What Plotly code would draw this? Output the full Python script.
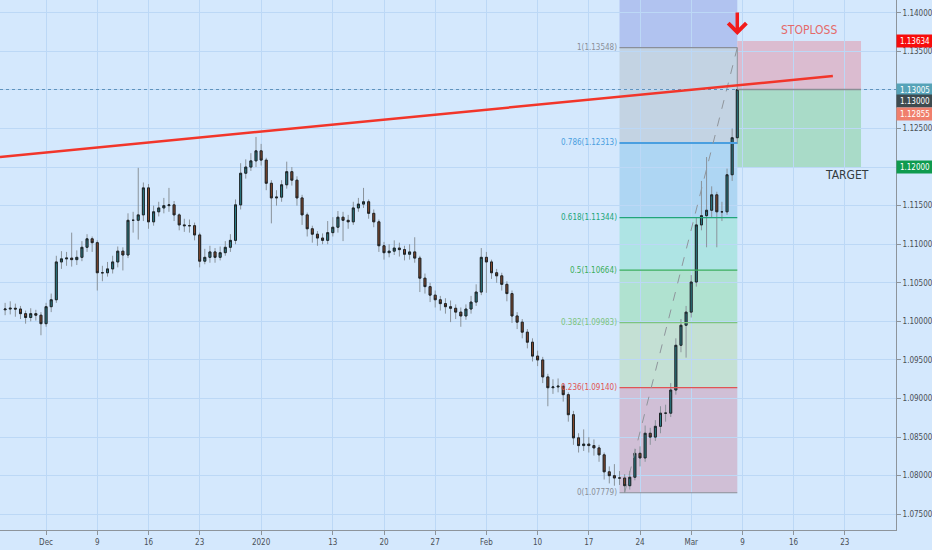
import plotly.graph_objects as go
import pandas as pd

# EUR/USD, 12h bars (Nov 26 2019 .. Mar 6 2020)
trading_days = pd.bdate_range("2019-11-26", "2020-03-06", freq="C",
                              holidays=["2019-12-25", "2020-01-01"])
bar_times = [d + pd.Timedelta(hours=h) for d in trading_days for h in (0, 12)]

opens = [1.1015, 1.1016, 1.1017, 1.1016, 1.1010, 1.1005, 1.1010, 1.1008, 1.0997, 1.1019,
         1.1028, 1.1077, 1.1081, 1.1082, 1.1080, 1.1083, 1.1096, 1.1107, 1.1102, 1.1063,
         1.1063, 1.1068, 1.1077, 1.1091, 1.1086, 1.1131, 1.1131, 1.1138, 1.1173, 1.1129,
         1.1142, 1.1147, 1.1150, 1.1151, 1.1138, 1.1125, 1.1124, 1.1124, 1.1112, 1.1078,
         1.1083, 1.1090, 1.1083, 1.1089, 1.1096, 1.1105, 1.1151, 1.1192, 1.1200, 1.1208,
         1.1221, 1.1209, 1.1179, 1.1160, 1.1161, 1.1177, 1.1194, 1.1183, 1.1160, 1.1138,
         1.1120, 1.1113, 1.1108, 1.1105, 1.1115, 1.1122, 1.1135, 1.1131, 1.1129, 1.1147,
         1.1152, 1.1155, 1.1140, 1.1129, 1.1098, 1.1089, 1.1091, 1.1095, 1.1093, 1.1087,
         1.1090, 1.1082, 1.1056, 1.1045, 1.1034, 1.1028, 1.1023, 1.1019, 1.1017, 1.1012,
         1.1007, 1.1016, 1.1025, 1.1038, 1.1083, 1.1077, 1.1063, 1.1059, 1.1048, 1.1036,
         1.1007, 1.0999, 1.0986, 1.0973, 1.0955, 1.0950, 1.0928, 1.0914, 1.0915, 1.0916,
         1.0905, 1.0879, 1.0849, 1.0839, 1.0841, 1.0839, 1.0836, 1.0827, 1.0805, 1.0800,
         1.0797, 1.0797, 1.0787, 1.0798, 1.0829, 1.0823, 1.0855, 1.0850, 1.0864, 1.0881,
         1.0881, 1.0911, 1.0969, 1.0995, 1.1012, 1.1051, 1.1125, 1.1137, 1.1144, 1.1164,
         1.1142, 1.1142, 1.1190, 1.1238]

closes = [1.1016, 1.1017, 1.1016, 1.1010, 1.1005, 1.1010, 1.1008, 1.0997, 1.1019, 1.1028,
          1.1077, 1.1081, 1.1082, 1.1080, 1.1083, 1.1096, 1.1107, 1.1102, 1.1063, 1.1063,
          1.1068, 1.1077, 1.1091, 1.1086, 1.1131, 1.1131, 1.1138, 1.1173, 1.1129, 1.1142,
          1.1147, 1.1150, 1.1151, 1.1138, 1.1125, 1.1124, 1.1124, 1.1112, 1.1078, 1.1083,
          1.1090, 1.1083, 1.1089, 1.1096, 1.1105, 1.1151, 1.1192, 1.1200, 1.1208, 1.1221,
          1.1209, 1.1179, 1.1160, 1.1161, 1.1177, 1.1194, 1.1183, 1.1160, 1.1138, 1.1120,
          1.1113, 1.1108, 1.1105, 1.1115, 1.1122, 1.1135, 1.1131, 1.1129, 1.1147, 1.1152,
          1.1155, 1.1140, 1.1129, 1.1098, 1.1089, 1.1091, 1.1095, 1.1093, 1.1087, 1.1090,
          1.1082, 1.1056, 1.1045, 1.1034, 1.1028, 1.1023, 1.1019, 1.1017, 1.1012, 1.1007,
          1.1016, 1.1025, 1.1038, 1.1083, 1.1077, 1.1063, 1.1059, 1.1048, 1.1036, 1.1007,
          1.0999, 1.0986, 1.0973, 1.0955, 1.0950, 1.0928, 1.0914, 1.0915, 1.0916, 1.0905,
          1.0879, 1.0849, 1.0839, 1.0841, 1.0839, 1.0836, 1.0827, 1.0805, 1.0800, 1.0797,
          1.0797, 1.0787, 1.0798, 1.0829, 1.0823, 1.0855, 1.0850, 1.0864, 1.0881, 1.0881,
          1.0911, 1.0969, 1.0995, 1.1012, 1.1051, 1.1125, 1.1137, 1.1144, 1.1164, 1.1142,
          1.1142, 1.1190, 1.1238, 1.13005]

highs = [1.1024, 1.1026, 1.1023, 1.1020, 1.1014, 1.1017, 1.1015, 1.1012, 1.1024, 1.1036,
         1.1085, 1.1091, 1.1090, 1.1115, 1.1092, 1.1104, 1.1113, 1.1110, 1.1105, 1.1072,
         1.1077, 1.1085, 1.1097, 1.1096, 1.1140, 1.1142, 1.1199, 1.1180, 1.1178, 1.1150,
         1.1155, 1.1160, 1.1173, 1.1156, 1.1140, 1.1133, 1.1132, 1.1128, 1.1115, 1.1094,
         1.1098, 1.1095, 1.1097, 1.1104, 1.1113, 1.1158, 1.1205, 1.1210, 1.1218, 1.1239,
         1.1230, 1.1212, 1.1183, 1.1170, 1.1183, 1.1207, 1.1200, 1.1188, 1.1164, 1.1141,
         1.1124, 1.1117, 1.1114, 1.1130, 1.1135, 1.1143, 1.1142, 1.1138, 1.1155, 1.1160,
         1.1173, 1.1158, 1.1145, 1.1132, 1.1103, 1.1100, 1.1105, 1.1102, 1.1098, 1.1100,
         1.1109, 1.1085, 1.1062, 1.1050, 1.1040, 1.1033, 1.1030, 1.1027, 1.1022, 1.1018,
         1.1022, 1.1033, 1.1048, 1.1095, 1.1090, 1.1080, 1.1068, 1.1063, 1.1052, 1.1040,
         1.1012, 1.1003, 1.0990, 1.0978, 1.0962, 1.0954, 1.0932, 1.0925, 1.0926, 1.0920,
         1.0908, 1.0884, 1.0855, 1.0860, 1.0850, 1.0847, 1.0840, 1.0830, 1.0812, 1.0815,
         1.0806, 1.0802, 1.0806, 1.0835, 1.0838, 1.0865, 1.0862, 1.0872, 1.0890, 1.0892,
         1.0920, 1.0978, 1.1003, 1.1020, 1.1060, 1.1135, 1.1182, 1.1213, 1.1175, 1.1168,
         1.1155, 1.1198, 1.1250, 1.13548]

lows = [1.1008, 1.1009, 1.1006, 1.1003, 1.0997, 1.1000, 1.1001, 1.0982, 1.0993, 1.1012,
        1.1024, 1.1068, 1.1072, 1.1071, 1.1073, 1.1078, 1.1090, 1.1090, 1.1040, 1.1052,
        1.1058, 1.1062, 1.1070, 1.1066, 1.1082, 1.1115, 1.1106, 1.1130, 1.1120, 1.1124,
        1.1136, 1.1140, 1.1142, 1.1130, 1.1118, 1.1116, 1.1115, 1.1105, 1.1070, 1.1074,
        1.1076, 1.1076, 1.1079, 1.1085, 1.1090, 1.1100, 1.1145, 1.1185, 1.1195, 1.1200,
        1.1202, 1.1170, 1.1127, 1.1150, 1.1155, 1.1172, 1.1176, 1.1150, 1.1125, 1.1110,
        1.1102, 1.1098, 1.1100, 1.1100, 1.1110, 1.1115, 1.1104, 1.1120, 1.1125, 1.1142,
        1.1147, 1.1133, 1.1122, 1.1090, 1.1080, 1.1083, 1.1086, 1.1084, 1.1079, 1.1080,
        1.1076, 1.1038, 1.1036, 1.1025, 1.1018, 1.1014, 1.1010, 1.0999, 1.1003, 1.0993,
        1.1002, 1.1010, 1.1020, 1.1034, 1.1037, 1.1055, 1.1050, 1.1040, 1.1026, 1.0998,
        1.0990, 1.0978, 1.0965, 1.0948, 1.0942, 1.0920, 1.0890, 1.0906, 1.0908, 1.0896,
        1.0870, 1.0840, 1.0830, 1.0832, 1.0830, 1.0826, 1.0818, 1.0795, 1.0790, 1.0787,
        1.0788, 1.07779, 1.0782, 1.0794, 1.0812, 1.0818, 1.0840, 1.0845, 1.0855, 1.0870,
        1.0876, 1.0905, 1.0960, 1.0953, 1.1005, 1.1045, 1.1118, 1.1096, 1.1135, 1.1096,
        1.1130, 1.1138, 1.1182, 1.1230]

# fibonacci retracement drawn from the Feb low to the Mar high
fib_ratios = ["0", "0.236", "0.382", "0.5", "0.618", "0.786", "1"]
fib_prices = [1.07779, 1.09140, 1.09983, 1.10664, 1.11344, 1.12313, 1.13548]
fib_colors = ["#8a8f99", "#e05555", "#7cc47f", "#3aae5a", "#22a57a", "#4a9fe0", "#8a8f99"]
fib_fills = ["#d0bfd6", "#c4e0d4", "#b0e2d0", "#aee4e4", "#aed6f3", "#c3d3e3"]
fib_top_fill = "#b1c3f0"
fib_start, fib_end = "2020-02-20 00:00", "2020-03-06 12:00"
fib_low_time = "2020-02-20 12:00"

# trade idea: short from entry with stop and target
entry_price = 1.13005
stop_price = 1.13634
target_price = 1.12000
trade_end = "2020-03-24 14:00"

# red resistance line
trend_times = ["2019-11-25 12:00", "2020-03-19 20:00"]
trend_prices = [1.1213, 1.1318]

# right scale labels
axis_label_prices = [1.13634, 1.13005, 1.13000, 1.12855, 1.12000]
axis_label_colors = ["#f70c0c", "#56a3b8", "#3e4b50", "#f07f6c", "#0f9b4f"]
axis_label_shift = [0, 0, -11, -13, 0]

tick_dates = ["2019-12-02", "2019-12-09", "2019-12-16", "2019-12-23", "2020-01-02",
              "2020-01-13", "2020-01-20", "2020-01-27", "2020-02-03", "2020-02-10",
              "2020-02-17", "2020-02-24", "2020-03-02", "2020-03-09", "2020-03-16",
              "2020-03-23"]
tick_labels = ["Dec", "9", "16", "23", "2020", "13", "20", "27", "Feb", "10", "17", "24",
               "Mar", "9", "16", "23"]

BG = "#d4e8fd"
GRID = "#bcd8f6"
FONT = "Liberation Sans Narrow, DejaVu Sans Condensed, Liberation Sans, sans-serif"

fig = go.Figure()

# wicks (grey) then bodies (dark outline) on top
fig.add_trace(go.Candlestick(
    x=bar_times, open=opens, high=highs, low=lows, close=closes,
    increasing=dict(line=dict(color="#8a939b", width=1), fillcolor="#8a939b"),
    decreasing=dict(line=dict(color="#8a939b", width=1), fillcolor="#8a939b"),
    hoverinfo="skip", showlegend=False))
fig.add_trace(go.Candlestick(
    x=bar_times, open=opens, close=closes,
    high=[max(o, c) for o, c in zip(opens, closes)],
    low=[min(o, c) for o, c in zip(opens, closes)],
    increasing=dict(line=dict(color="#1d2326", width=1), fillcolor="#2b808a"),
    decreasing=dict(line=dict(color="#1d2326", width=1), fillcolor="#8a4a2d"),
    showlegend=False))

shapes = []
# fib zones
for i in range(len(fib_fills)):
    shapes.append(dict(type="rect", xref="x", yref="y", x0=fib_start, x1=fib_end,
                       y0=fib_prices[i], y1=fib_prices[i + 1], fillcolor=fib_fills[i],
                       line=dict(width=0), layer="below"))
shapes.append(dict(type="rect", xref="x", yref="y", x0=fib_start, x1=fib_end,
                   y0=fib_prices[-1], y1=1.1417, fillcolor=fib_top_fill,
                   line=dict(width=0), layer="below"))
# trade boxes
shapes.append(dict(type="rect", xref="x", yref="y", x0=fib_end, x1=trade_end,
                   y0=entry_price, y1=stop_price, fillcolor="#dbbcd0",
                   line=dict(width=0), layer="below"))
shapes.append(dict(type="rect", xref="x", yref="y", x0=fib_end, x1=trade_end,
                   y0=target_price, y1=entry_price, fillcolor="#a9dbc8",
                   line=dict(width=0), layer="below"))
# fib level lines
for p, col, r in zip(fib_prices, fib_colors, fib_ratios):
    shapes.append(dict(type="line", xref="x", yref="y", x0=fib_start, x1=fib_end,
                       y0=p, y1=p, line=dict(color=col, width=2 if r == "0.786" else 1.2)))
# dashed fib trend
shapes.append(dict(type="line", xref="x", yref="y", x0=fib_low_time, x1=fib_end,
                   y0=fib_prices[0], y1=fib_prices[-1],
                   line=dict(color="#8f959c", width=1, dash="dash")))
# current price dotted line
shapes.append(dict(type="line", xref="paper", yref="y", x0=0, x1=1,
                   y0=entry_price, y1=entry_price,
                   line=dict(color="#5f93bd", width=1, dash="dot")))
# entry line of trade
shapes.append(dict(type="line", xref="x", yref="y", x0=fib_end, x1=trade_end,
                   y0=entry_price, y1=entry_price, line=dict(color="#8a8f96", width=1.5)))
# red trend line
shapes.append(dict(type="line", xref="x", yref="y", x0=trend_times[0], x1=trend_times[1],
                   y0=trend_prices[0], y1=trend_prices[1],
                   line=dict(color="#f2352a", width=2.5)))

annotations = []
for r, p, col in zip(fib_ratios, fib_prices, fib_colors):
    annotations.append(dict(x=fib_start, y=p, xref="x", yref="y", xanchor="right",
                            yanchor="middle", xshift=-1, showarrow=False,
                            text=f"{r}({p:.5f})", font=dict(size=8, color=col, family=FONT)))
annotations.append(dict(x="2020-03-17 12:00", y=1.13776, xref="x", yref="y",
                        showarrow=False, text="STOPLOSS",
                        font=dict(size=12, color="#e46a6a", family=FONT)))
annotations.append(dict(x="2020-03-23 05:00", y=1.11897, xref="x", yref="y",
                        showarrow=False, text="TARGET",
                        font=dict(size=12, color="#333b40", family=FONT)))
# red arrow over the high
annotations.append(dict(x=bar_times[-1], y=1.13711, xref="x", yref="y", text="",
                        showarrow=True, ax=0, ay=-24, arrowhead=4, arrowsize=1,
                        arrowwidth=3.5, arrowcolor="#f21b1b"))
for p, col, sh in zip(axis_label_prices, axis_label_colors, axis_label_shift):
    annotations.append(dict(x=1, y=p, xref="paper", yref="y", xanchor="left",
                            yanchor="middle", yshift=sh, showarrow=False,
                            text=f"{p:.5f}", bgcolor=col, width=34, height=10,
                            borderpad=1, align="center",
                            font=dict(size=8, color="white", family=FONT)))

fig.update_layout(
    width=932, height=550,
    margin=dict(l=0, r=36, t=0, b=20),
    plot_bgcolor=BG, paper_bgcolor=BG,
    shapes=shapes, annotations=annotations,
    showlegend=False, boxgap=0.45,
    font=dict(family=FONT, size=8, color="#4a4f55"),
    xaxis=dict(
        type="date",
        range=["2019-11-25 12:00", "2020-03-27 23:59"],
        rangebreaks=[dict(bounds=["sat", "mon"]),
                     dict(values=["2019-12-25", "2020-01-01"])],
        rangeslider=dict(visible=False),
        tickmode="array", tickvals=tick_dates, ticktext=tick_labels,
        showgrid=True, gridcolor=GRID, gridwidth=1,
        showline=True, linecolor="#8d949b", linewidth=1,
        ticks="outside", ticklen=4, tickcolor="#8d949b",
        tickfont=dict(size=8, color="#4a4f55"),
        zeroline=False, fixedrange=True, automargin=False,
    ),
    yaxis=dict(
        side="right",
        range=[1.07296, 1.14165],
        dtick=0.005, tick0=1.075, tickformat=".5f",
        showgrid=True, gridcolor=GRID, gridwidth=1,
        showline=True, linecolor="#8d949b", linewidth=1,
        ticks="outside", ticklen=4, tickcolor="#8d949b",
        tickfont=dict(size=8, color="#4a4f55"),
        zeroline=False, fixedrange=True, automargin=False,
    ),
)

# page body has a default margin; drop it so the chart sits in the window corner
fig.write_html("out.html", config={"displayModeBar": False},
               post_script="document.body.style.margin='0';")
